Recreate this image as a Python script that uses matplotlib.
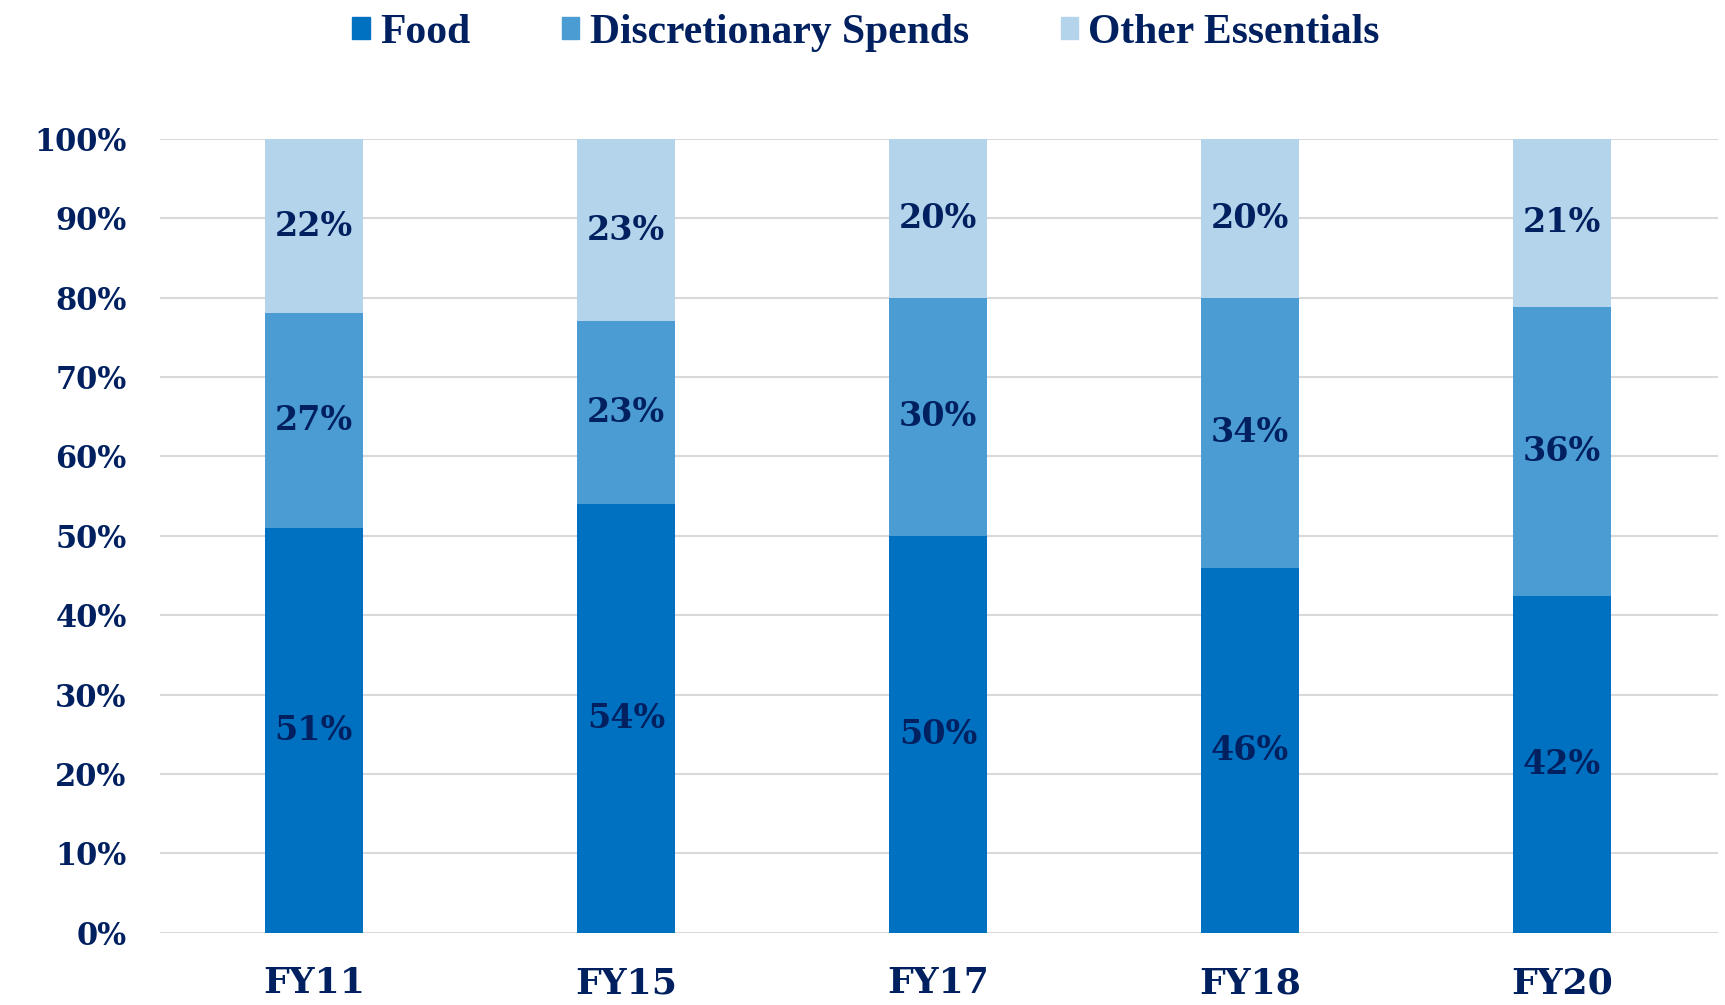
import matplotlib.pyplot as plt
from matplotlib.patches import Patch
import numpy as np

# colours
FOOD_C = "#0070C0"
DISC_C = "#4B9CD3"
OTHER_C = "#B4D4EC"
NAVY = "#002060"
GRID = "#D9D9D9"

years = ["FY11", "FY15", "FY17", "FY18", "FY20"]
food = [51, 54, 50, 46, 42.4]
discretionary = [27, 23, 30, 34, 36.4]
other = [22, 23, 20, 20, 21.2]
series_names = ["Food", "Discretionary Spends", "Other Essentials"]

fig = plt.figure(figsize=(17.25, 10.05), dpi=100)
ax = fig.add_axes([0.0928, 0.0718, 0.9032, 0.7902])

x = np.arange(len(years))
width = 0.314
bottom = np.zeros(len(years))
for vals, color in zip([food, discretionary, other], [FOOD_C, DISC_C, OTHER_C]):
    vals = np.array(vals)
    ax.bar(x, vals, width, bottom=bottom, color=color, zorder=3)
    for xi, b, v in zip(x, bottom, vals):
        ax.text(xi, b + v / 2, "%d%%" % round(v), ha="center", va="center",
                color=NAVY, fontsize=24, fontweight="bold",
                family="DejaVu Serif", zorder=4)
    bottom += vals

ax.set_xlim(-0.493, 4.5)
ax.set_ylim(0, 100)
ax.set_yticks(np.arange(0, 101, 10))
ax.set_yticklabels(["%d%%" % v for v in range(0, 101, 10)])
ax.set_xticks(x)
ax.set_xticklabels(years)
ax.grid(axis="y", color=GRID, linewidth=1.5, zorder=0)
ax.set_axisbelow(True)
for s in ax.spines.values():
    s.set_visible(False)
ax.tick_params(axis="both", length=0, colors=NAVY)
ax.tick_params(axis="y", pad=24, labelsize=22)
ax.tick_params(axis="x", pad=24, labelsize=26)
for lab in ax.get_yticklabels() + ax.get_xticklabels():
    lab.set_fontweight("bold")
    lab.set_family("DejaVu Serif")

handles = [Patch(color=c) for c in [FOOD_C, DISC_C, OTHER_C]]
leg = fig.legend(handles, series_names, loc="center", ncol=3,
                 bbox_to_anchor=(0.502, 0.967), frameon=False,
                 prop={"family": "Liberation Serif", "weight": "bold", "size": 30},
                 handlelength=0.42, handleheight=0.42, handletextpad=0.25,
                 columnspacing=2.2)
for t in leg.get_texts():
    t.set_color(NAVY)

fig.savefig("out.png", dpi=100)
